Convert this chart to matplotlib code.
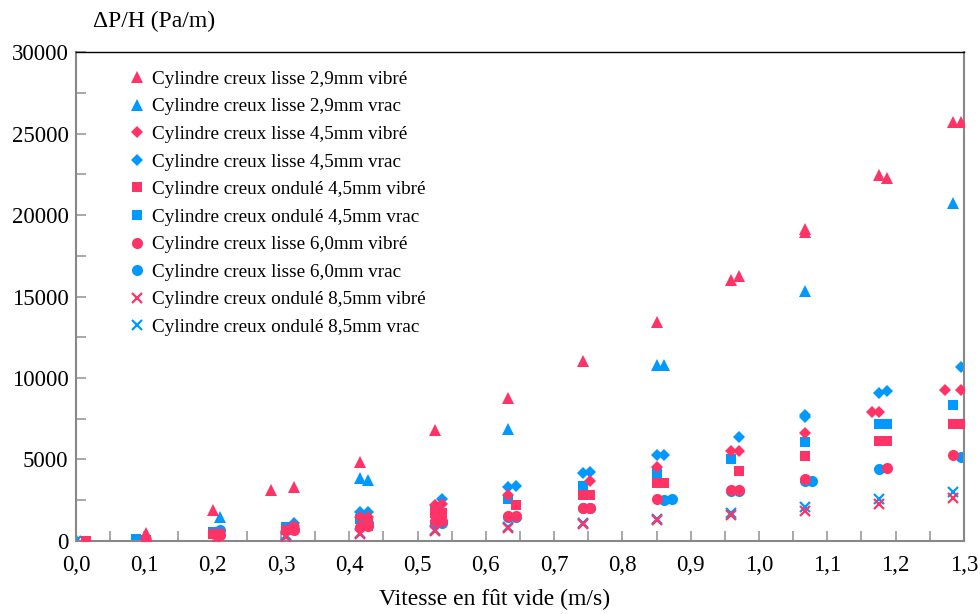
import numpy as np
import matplotlib
matplotlib.use("Agg")
import matplotlib.pyplot as plt
from matplotlib.ticker import MultipleLocator, FuncFormatter

plt.rcParams['font.family'] = ['Liberation Serif', 'DejaVu Serif']

RED = '#ff3366'
BLUE = '#0099ff'

# lisse 2,9mm
x_l29_vib = [0.102, 0.200, 0.286, 0.319, 0.416, 0.525, 0.633, 0.742, 0.850, 0.959, 0.970,
             1.067, 1.067, 1.176, 1.187, 1.284, 1.295]
y_l29_vib = [500, 1900, 3100, 3300, 4850, 6800, 8800, 11050, 13450, 16000, 16250,
             19150, 18950, 22450, 22300, 25700, 25700]
x_l29_vrac = [0.002, 0.211, 0.416, 0.427, 0.633, 0.850, 0.861, 1.067, 1.284]
y_l29_vrac = [0, 1500, 3850, 3750, 6900, 10800, 10800, 15350, 20750]

# lisse 4,5mm
x_l45_vib = [0.211, 0.319, 0.416, 0.427, 0.525, 0.536, 0.633, 0.753, 0.850, 0.959, 0.970,
             1.067, 1.165, 1.176, 1.273, 1.295]
y_l45_vib = [450, 900, 1500, 1450, 2200, 2250, 2850, 3700, 4550, 5550, 5550,
             6650, 7900, 7900, 9250, 9250]
x_l45_vrac = [0.211, 0.319, 0.416, 0.427, 0.536, 0.633, 0.644, 0.742, 0.753, 0.850, 0.861,
              0.970, 1.067, 1.067, 1.176, 1.187, 1.295]
y_l45_vrac = [600, 1100, 1800, 1750, 2550, 3300, 3350, 4200, 4250, 5300, 5250,
              6400, 7600, 7750, 9100, 9200, 10650]

# ondule 4,5mm
x_o45_vib = [0.015, 0.102, 0.200, 0.211, 0.308, 0.319, 0.427, 0.427, 0.525, 0.536, 0.644,
             0.742, 0.753, 0.850, 0.861, 0.970, 1.067, 1.176, 1.187, 1.284, 1.295]
y_o45_vib = [0, 50, 450, 400, 700, 800, 1250, 950, 1700, 1700, 2200,
             2850, 2850, 3550, 3550, 4300, 5200, 6150, 6150, 7200, 7200]
x_o45_vrac = [0.088, 0.200, 0.308, 0.416, 0.525, 0.633, 0.742, 0.850, 0.959, 1.067,
              1.176, 1.187, 1.284]
y_o45_vrac = [100, 550, 850, 1350, 1950, 2600, 3350, 4150, 5050, 6050,
              7200, 7150, 8350]

# lisse 6,0mm
x_l60_vib = [0.102, 0.211, 0.319, 0.416, 0.427, 0.525, 0.536, 0.633, 0.644, 0.742, 0.753,
             0.850, 0.959, 0.970, 1.067, 1.187, 1.284]
y_l60_vib = [0, 350, 650, 850, 900, 1200, 1200, 1550, 1550, 2050, 2050,
             2600, 3100, 3100, 3800, 4500, 5300]
x_l60_vrac = [0.211, 0.319, 0.427, 0.525, 0.536, 0.633, 0.644, 0.742, 0.753, 0.861, 0.873,
              0.959, 0.970, 1.067, 1.078, 1.176, 1.295]
y_l60_vrac = [650, 750, 1100, 1100, 1100, 1500, 1500, 2000, 2000, 2500, 2550,
              3050, 3050, 3700, 3700, 4400, 5150]

# ondule 8,5mm
x_o85_vib = [0.205, 0.308, 0.416, 0.525, 0.633, 0.742, 0.850, 0.959, 1.067, 1.176, 1.284]
y_o85_vib = [100, 250, 400, 600, 800, 1050, 1300, 1600, 1850, 2250, 2650]
x_o85_vrac = [0.0, 0.211, 0.308, 0.416, 0.525, 0.633, 0.742, 0.850, 0.959, 1.067, 1.176, 1.284]
y_o85_vrac = [0, 150, 350, 500, 650, 850, 1100, 1350, 1700, 2100, 2550, 3000]

series = [
    (x_l29_vib, y_l29_vib, RED, '^', 9, "Cylindre creux lisse 2,9mm vibré"),
    (x_l29_vrac, y_l29_vrac, BLUE, '^', 9, "Cylindre creux lisse 2,9mm vrac"),
    (x_l45_vib, y_l45_vib, RED, 'D', 6, "Cylindre creux lisse 4,5mm vibré"),
    (x_l45_vrac, y_l45_vrac, BLUE, 'D', 6, "Cylindre creux lisse 4,5mm vrac"),
    (x_o45_vib, y_o45_vib, RED, 's', 7.5, "Cylindre creux ondulé 4,5mm vibré"),
    (x_o45_vrac, y_o45_vrac, BLUE, 's', 7.5, "Cylindre creux ondulé 4,5mm vrac"),
    (x_l60_vib, y_l60_vib, RED, 'o', 8, "Cylindre creux lisse 6,0mm vibré"),
    (x_l60_vrac, y_l60_vrac, BLUE, 'o', 8, "Cylindre creux lisse 6,0mm vrac"),
    (x_o85_vib, y_o85_vib, RED, 'x', 7.5, "Cylindre creux ondulé 8,5mm vibré"),
    (x_o85_vrac, y_o85_vrac, BLUE, 'x', 7.5, "Cylindre creux ondulé 8,5mm vrac"),
]

fig = plt.figure(figsize=(9.8, 6.14), dpi=100)
ax = fig.add_axes([0.0776, 0.1189, 0.906, 0.7964])

for xs, ys, col, mk, ms, lab in series:
    z = 3 if col == RED else 2
    ax.plot(xs, ys, linestyle='none', marker=mk, markersize=ms, color=col,
            markeredgewidth=1.6 if mk == 'x' else 0, label=lab, zorder=z)

ax.set_xlim(0, 1.3)
ax.set_ylim(0, 30000)
ax.xaxis.set_major_locator(MultipleLocator(0.1))
ax.xaxis.set_minor_locator(MultipleLocator(0.05))
ax.yaxis.set_major_locator(MultipleLocator(5000))
ax.yaxis.set_minor_locator(MultipleLocator(2500))
ax.xaxis.set_major_formatter(FuncFormatter(lambda v, p: f"{v:.1f}".replace('.', ',')))
ax.yaxis.set_major_formatter(FuncFormatter(lambda v, p: f"{int(round(v))}"))

ax.tick_params(which='both', direction='in', length=7, width=1.2, color='#999999',
               labelsize=16.5, top=False, right=False)
ax.tick_params(axis='x', pad=10)
ax.tick_params(axis='y', pad=5.5)

for s in ['left', 'bottom', 'right']:
    ax.spines[s].set_color('#888888')
    ax.spines[s].set_linewidth(1.5)
ax.spines['top'].set_color('black')
ax.spines['top'].set_linewidth(1.0)

leg = ax.legend(loc='upper left', bbox_to_anchor=(0.054, 0.978), frameon=False,
                fontsize=13.8, handlelength=0.6, handletextpad=0.45,
                labelspacing=0.53, borderaxespad=0)

fig.text(0.095, 0.965, "ΔP/H (Pa/m)", fontsize=17, ha='left', va='center')
fig.text(0.505, 0.024, "Vitesse en fût vide (m/s)", fontsize=17, ha='center', va='center')

fig.savefig("out.png", dpi=100)
